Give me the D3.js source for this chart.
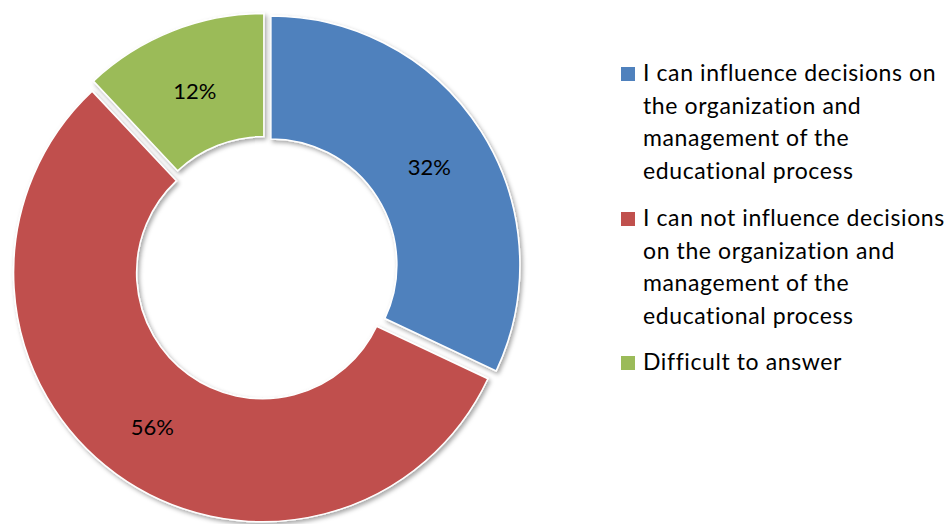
<!DOCTYPE html>
<html lang="en">
<head>
    <meta charset="UTF-8">
    <title>Influence on decisions</title>
    <script src="https://d3js.org/d3.v7.min.js"></script>
    <style>
        body { margin: 0; background: #fff; }
        .slice { stroke: #fff; stroke-width: 1.5px; }
        .label { font-family: Lato, "Open Sans", sans-serif; font-size: 22px; fill: #000; }
        .legend-text { font-family: Lato, "Open Sans", sans-serif; font-size: 23px; letter-spacing: 0.6px; fill: #000; }
    </style>
</head>
<body>
<script>
    // data
    const categories = [
        "I can influence decisions on the organization and management of the educational process",
        "I can not influence decisions on the organization and management of the educational process",
        "Difficult to answer"
    ];
    const values = [32, 56, 12];
    const colors = ["#4F81BD", "#C0504D", "#9BBB59"];
    // legend lines as wrapped in the picture
    const legendLines = [
        ["I can influence decisions on", "the organization and", "management of the", "educational process"],
        ["I can not influence decisions", "on the organization and", "management of the", "educational process"],
        ["Difficult to answer"]
    ];

    const width = 950, height = 524;
    const cx = 266, cy = 268;
    const outerR = 249, innerR = 126, explode = 5.8;

    const svg = d3.select("body").append("svg")
        .attr("width", width)
        .attr("height", height);

    const defs = svg.append("defs");
    const f = defs.append("filter").attr("id", "shadow")
        .attr("x", "-10%").attr("y", "-10%").attr("width", "120%").attr("height", "120%");
    f.append("feDropShadow")
        .attr("dx", 2).attr("dy", 2.5).attr("stdDeviation", 2)
        .attr("flood-color", "#000").attr("flood-opacity", 0.35);

    const pie = d3.pie().sort(null).value(d => d);
    const arcs = pie(values);

    const arc = d3.arc().innerRadius(innerR).outerRadius(outerR);

    const g = svg.append("g").attr("transform", `translate(${cx},${cy})`);

    const offset = d => {
        const a = (d.startAngle + d.endAngle) / 2;
        return [Math.sin(a) * explode, -Math.cos(a) * explode];
    };

    g.selectAll("path")
        .data(arcs)
        .enter().append("path")
        .attr("class", "slice")
        .attr("d", arc)
        .attr("fill", (d, i) => colors[i])
        .attr("filter", "url(#shadow)")
        .attr("transform", d => `translate(${offset(d)})`);

    g.selectAll("text")
        .data(arcs)
        .enter().append("text")
        .attr("class", "label")
        .attr("text-anchor", "middle")
        .attr("dominant-baseline", "central")
        .attr("x", d => arc.centroid(d)[0] + offset(d)[0])
        .attr("y", d => arc.centroid(d)[1] + offset(d)[1] + 2)
        .text(d => d.data + "%");

    // legend
    const lineH = 32.5;
    const baselines = [81, 226, 370];
    const legend = svg.append("g").attr("class", "legend");

    categories.forEach((c, i) => {
        const item = legend.append("g");
        item.append("rect")
            .attr("x", 621).attr("y", baselines[i] - 14)
            .attr("width", 14).attr("height", 14)
            .attr("fill", colors[i]);
        const t = item.append("text")
            .attr("class", "legend-text")
            .attr("x", 643).attr("y", baselines[i]);
        legendLines[i].forEach((ln, j) => {
            t.append("tspan")
                .attr("x", 643)
                .attr("dy", j === 0 ? 0 : lineH)
                .text(ln);
        });
    });
</script>
</body>
</html>
